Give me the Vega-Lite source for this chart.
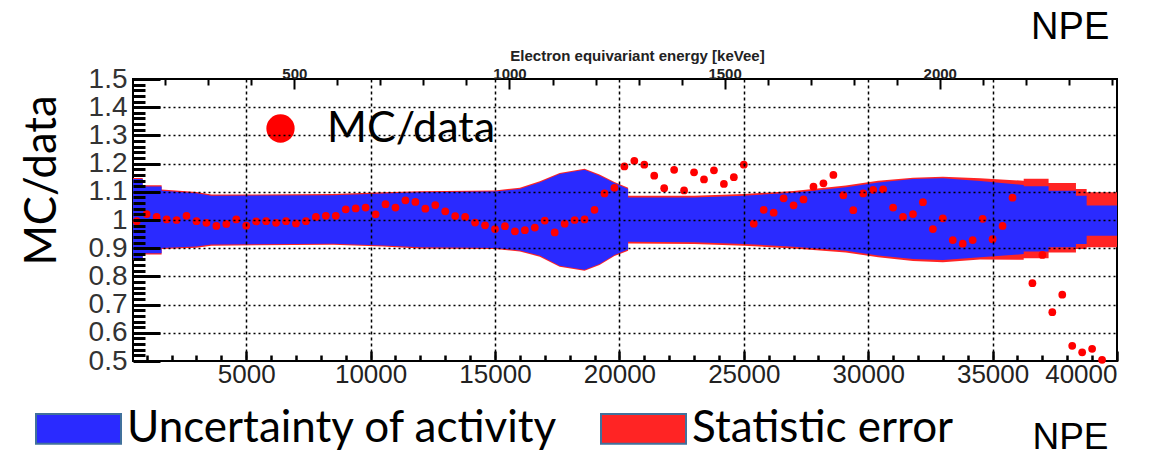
{
  "$schema": "https://vega.github.io/schema/vega-lite/v6.json",
  "width": 984,
  "height": 282,
  "autosize": {"type": "none"},
  "padding": {"left": 133, "top": 79, "right": 51, "bottom": 94},
  "background": "white",
  "title": {"text": "NPE", "anchor": "end", "font": "Liberation Sans", "fontSize": 38, "fontWeight": "normal", "color": "black", "offset": 1, "dx": -9},
  "config": {"view": {"stroke": "black", "strokeWidth": 2}},
  "datasets": {
    "band": [
      {"npe": 450, "blo": 0.862, "bhi": 1.145, "rlo": 0.858, "rhi": 1.149},
      {"npe": 840, "blo": 0.862, "bhi": 1.145, "rlo": 0.858, "rhi": 1.149},
      {"npe": 840, "blo": 0.882, "bhi": 1.119, "rlo": 0.878, "rhi": 1.123},
      {"npe": 1600, "blo": 0.882, "bhi": 1.119, "rlo": 0.878, "rhi": 1.123},
      {"npe": 1600, "blo": 0.901, "bhi": 1.104, "rlo": 0.897, "rhi": 1.108},
      {"npe": 3000, "blo": 0.906, "bhi": 1.095, "rlo": 0.902, "rhi": 1.099},
      {"npe": 3600, "blo": 0.913, "bhi": 1.086, "rlo": 0.909, "rhi": 1.090},
      {"npe": 8500, "blo": 0.916, "bhi": 1.088, "rlo": 0.912, "rhi": 1.092},
      {"npe": 10500, "blo": 0.910, "bhi": 1.094, "rlo": 0.906, "rhi": 1.098},
      {"npe": 12000, "blo": 0.903, "bhi": 1.098, "rlo": 0.899, "rhi": 1.102},
      {"npe": 15000, "blo": 0.901, "bhi": 1.101, "rlo": 0.897, "rhi": 1.105},
      {"npe": 16000, "blo": 0.892, "bhi": 1.110, "rlo": 0.888, "rhi": 1.114},
      {"npe": 16800, "blo": 0.874, "bhi": 1.133, "rlo": 0.870, "rhi": 1.137},
      {"npe": 17600, "blo": 0.838, "bhi": 1.163, "rlo": 0.834, "rhi": 1.167},
      {"npe": 18600, "blo": 0.824, "bhi": 1.178, "rlo": 0.820, "rhi": 1.182},
      {"npe": 19200, "blo": 0.844, "bhi": 1.157, "rlo": 0.840, "rhi": 1.161},
      {"npe": 19800, "blo": 0.876, "bhi": 1.131, "rlo": 0.872, "rhi": 1.135},
      {"npe": 20350, "blo": 0.895, "bhi": 1.110, "rlo": 0.891, "rhi": 1.114},
      {"npe": 20350, "blo": 0.923, "bhi": 1.080, "rlo": 0.917, "rhi": 1.086},
      {"npe": 23000, "blo": 0.921, "bhi": 1.080, "rlo": 0.915, "rhi": 1.086},
      {"npe": 25000, "blo": 0.915, "bhi": 1.086, "rlo": 0.909, "rhi": 1.092},
      {"npe": 27000, "blo": 0.905, "bhi": 1.097, "rlo": 0.899, "rhi": 1.103},
      {"npe": 29100, "blo": 0.891, "bhi": 1.116, "rlo": 0.885, "rhi": 1.122},
      {"npe": 30400, "blo": 0.874, "bhi": 1.133, "rlo": 0.868, "rhi": 1.139},
      {"npe": 31800, "blo": 0.862, "bhi": 1.145, "rlo": 0.855, "rhi": 1.150},
      {"npe": 33000, "blo": 0.858, "bhi": 1.148, "rlo": 0.850, "rhi": 1.153},
      {"npe": 34500, "blo": 0.868, "bhi": 1.138, "rlo": 0.860, "rhi": 1.148},
      {"npe": 36250, "blo": 0.879, "bhi": 1.124, "rlo": 0.859, "rhi": 1.139},
      {"npe": 36250, "blo": 0.888, "bhi": 1.120, "rlo": 0.864, "rhi": 1.146},
      {"npe": 37250, "blo": 0.888, "bhi": 1.120, "rlo": 0.864, "rhi": 1.146},
      {"npe": 37250, "blo": 0.903, "bhi": 1.104, "rlo": 0.885, "rhi": 1.131},
      {"npe": 38350, "blo": 0.903, "bhi": 1.104, "rlo": 0.885, "rhi": 1.131},
      {"npe": 38350, "blo": 0.915, "bhi": 1.086, "rlo": 0.897, "rhi": 1.110},
      {"npe": 38780, "blo": 0.915, "bhi": 1.086, "rlo": 0.897, "rhi": 1.110},
      {"npe": 38780, "blo": 0.944, "bhi": 1.051, "rlo": 0.903, "rhi": 1.098},
      {"npe": 40000, "blo": 0.944, "bhi": 1.051, "rlo": 0.903, "rhi": 1.098}
    ],
    "ratio": [
      {"npe": 600, "r": 0.996}, {"npe": 1000, "r": 1.021}, {"npe": 1400, "r": 1.011}, {"npe": 1800, "r": 1.002},
      {"npe": 2200, "r": 1.000}, {"npe": 2600, "r": 1.015}, {"npe": 3000, "r": 0.996}, {"npe": 3400, "r": 0.990},
      {"npe": 3800, "r": 0.979}, {"npe": 4200, "r": 0.986}, {"npe": 4600, "r": 1.002}, {"npe": 5000, "r": 0.980},
      {"npe": 5400, "r": 0.995}, {"npe": 5800, "r": 0.996}, {"npe": 6200, "r": 0.990}, {"npe": 6600, "r": 0.996},
      {"npe": 7000, "r": 0.988}, {"npe": 7400, "r": 0.996}, {"npe": 7800, "r": 1.011}, {"npe": 8200, "r": 1.015},
      {"npe": 8600, "r": 1.015}, {"npe": 9000, "r": 1.038}, {"npe": 9400, "r": 1.041}, {"npe": 9800, "r": 1.044},
      {"npe": 10200, "r": 1.020}, {"npe": 10600, "r": 1.056}, {"npe": 11000, "r": 1.044}, {"npe": 11400, "r": 1.070},
      {"npe": 11800, "r": 1.064}, {"npe": 12200, "r": 1.040}, {"npe": 12600, "r": 1.053}, {"npe": 13000, "r": 1.031},
      {"npe": 13400, "r": 1.014}, {"npe": 13800, "r": 1.011}, {"npe": 14200, "r": 0.991}, {"npe": 14600, "r": 0.981},
      {"npe": 15000, "r": 0.968}, {"npe": 15400, "r": 0.978}, {"npe": 15800, "r": 0.960}, {"npe": 16200, "r": 0.964},
      {"npe": 16600, "r": 0.973}, {"npe": 17000, "r": 0.998}, {"npe": 17400, "r": 0.956}, {"npe": 17800, "r": 0.987},
      {"npe": 18200, "r": 1.000}, {"npe": 18600, "r": 1.002}, {"npe": 19000, "r": 1.036}, {"npe": 19400, "r": 1.094},
      {"npe": 19800, "r": 1.114}, {"npe": 20200, "r": 1.190}, {"npe": 20600, "r": 1.210}, {"npe": 21000, "r": 1.196},
      {"npe": 21400, "r": 1.157}, {"npe": 21800, "r": 1.113}, {"npe": 22200, "r": 1.178}, {"npe": 22600, "r": 1.105},
      {"npe": 23000, "r": 1.169}, {"npe": 23400, "r": 1.144}, {"npe": 23800, "r": 1.176}, {"npe": 24200, "r": 1.128},
      {"npe": 24600, "r": 1.152}, {"npe": 25000, "r": 1.196}, {"npe": 25400, "r": 0.987}, {"npe": 25800, "r": 1.036},
      {"npe": 26200, "r": 1.026}, {"npe": 26600, "r": 1.077}, {"npe": 27000, "r": 1.052}, {"npe": 27400, "r": 1.073},
      {"npe": 27800, "r": 1.118}, {"npe": 28200, "r": 1.130}, {"npe": 28600, "r": 1.160}, {"npe": 29000, "r": 1.088},
      {"npe": 29400, "r": 1.035}, {"npe": 29800, "r": 1.094}, {"npe": 30200, "r": 1.107}, {"npe": 30600, "r": 1.109},
      {"npe": 31000, "r": 1.044}, {"npe": 31400, "r": 1.011}, {"npe": 31800, "r": 1.021}, {"npe": 32200, "r": 1.063},
      {"npe": 32600, "r": 0.968}, {"npe": 33000, "r": 1.006}, {"npe": 33400, "r": 0.929}, {"npe": 33800, "r": 0.916},
      {"npe": 34200, "r": 0.929}, {"npe": 34600, "r": 1.004}, {"npe": 35000, "r": 0.932}, {"npe": 35400, "r": 0.979},
      {"npe": 35800, "r": 1.079}, {"npe": 36600, "r": 0.776}, {"npe": 37000, "r": 0.876}, {"npe": 37400, "r": 0.673},
      {"npe": 37800, "r": 0.735}, {"npe": 38200, "r": 0.554}, {"npe": 38600, "r": 0.531}, {"npe": 39000, "r": 0.543},
      {"npe": 39400, "r": 0.504}
    ],
    "kev": [{"kev": 500}, {"kev": 1000}, {"kev": 1500}, {"kev": 2000}]
  },
  "layer": [
    {
      "layer": [
        {
          "data": {"name": "band"},
          "mark": {"type": "area", "opacity": 1},
          "encoding": {
            "x": {
              "field": "npe", "type": "quantitative",
              "scale": {"domain": [450, 40000], "nice": false, "zero": false},
              "axis": {
                "values": [1000,2000,3000,4000,5000,6000,7000,8000,9000,10000,11000,12000,13000,14000,15000,16000,17000,18000,19000,20000,21000,22000,23000,24000,25000,26000,27000,28000,29000,30000,31000,32000,33000,34000,35000,36000,37000,38000,39000,40000],
                "tickCount": 500,
                "labelExpr": "datum.value % 5000 == 0 ? format(datum.value, 'd') : ''",
                "labelFont": "Liberation Sans", "labelFontSize": 26, "labelColor": "#222",
                "labelOverlap": false, "labelFlush": true, "labelBound": false, "labelPadding": 10,
                "tickColor": "black",
                "tickSize": {"condition": {"test": "datum.value % 5000 == 0", "value": -10}, "value": -6},
                "tickWidth": 2.5,
                "grid": true, "gridColor": "black", "gridDash": [3, 3], "gridWidth": 1.5,
                "gridOpacity": {"condition": {"test": "datum.value % 5000 != 0 || datum.value >= 40000", "value": 0}, "value": 1},
                "domain": false,
                "title": "NPE", "titleFont": "Liberation Sans", "titleFontSize": 37, "titleFontWeight": "normal", "titleColor": "black",
                "titleX": 937, "titleY": 87, "titleAlign": "center", "titleBaseline": "alphabetic",
                "zindex": 1
              }
            },
            "y": {
              "field": "rlo", "type": "quantitative",
              "scale": {"domain": [0.5, 1.5], "nice": false, "zero": false},
              "axis": {
                "values": [0.5,0.52,0.54,0.56,0.58,0.6,0.62,0.64,0.66,0.68,0.7,0.72,0.74,0.76,0.78,0.8,0.82,0.84,0.86,0.88,0.9,0.92,0.94,0.96,0.98,1,1.02,1.04,1.06,1.08,1.1,1.12,1.14,1.16,1.18,1.2,1.22,1.24,1.26,1.28,1.3,1.32,1.34,1.36,1.38,1.4,1.42,1.44,1.46,1.48,1.5],
                "tickCount": 500,
                "labelExpr": "abs(datum.value*10 - round(datum.value*10)) < 0.001 ? format(datum.value, '.1~f') : ''",
                "labelFont": "Liberation Sans", "labelFontSize": 28, "labelColor": "#333",
                "labelOverlap": false, "labelBound": false, "labelPadding": 33,
                "tickColor": "black",
                "tickSize": {"condition": {"test": "abs(datum.value*10 - round(datum.value*10)) < 0.001", "value": -27}, "value": -12},
                "tickWidth": 3,
                "grid": true, "gridColor": "black", "gridDash": [2, 3], "gridWidth": 1.5,
                "gridOpacity": {"condition": {"test": "abs(datum.value*10 - round(datum.value*10)) > 0.001 || datum.value < 0.55 || datum.value > 1.45", "value": 0}, "value": 1},
                "domain": false,
                "title": "MC/data", "titleFont": "Lato", "titleFontSize": 43.5, "titleFontWeight": "normal", "titleColor": "black",
                "titleX": -91, "titleY": 101, "titleAngle": 270, "titleAlign": "center", "titleBaseline": "middle",
                "zindex": 1
              }
            },
            "y2": {"field": "rhi"},
            "color": {
              "datum": "Statistic error",
              "scale": {"domain": ["Uncertainty of activity", "Statistic error"], "range": ["#2a2aff", "#ff2424"]},
              "legend": {
                "orient": "none", "legendX": -98, "legendY": 306, "direction": "horizontal", "title": null,
                "symbolType": "M-1,-0.35H1V0.35H-1Z", "symbolSize": 7225,
                "symbolStrokeColor": "#41719c", "symbolStrokeWidth": 2, "symbolOpacity": 1,
                "labelFont": "Lato", "labelFontSize": 44, "labelColor": "black", "labelOffset": 5,
                "labelLimit": 600, "columnPadding": 38, "padding": 0
              }
            }
          }
        },
        {
          "data": {"name": "band"},
          "mark": {"type": "area", "opacity": 1},
          "encoding": {
            "x": {"field": "npe", "type": "quantitative"},
            "y": {"field": "blo", "type": "quantitative"},
            "y2": {"field": "bhi"},
            "color": {"datum": "Uncertainty of activity"}
          }
        },
        {
          "data": {"name": "ratio"},
          "mark": {"type": "point", "filled": true, "color": "#ff0000", "size": 60, "opacity": 1},
          "encoding": {
            "x": {"field": "npe", "type": "quantitative"},
            "y": {"field": "r", "type": "quantitative"},
            "shape": {
              "datum": "MC/data",
              "scale": {"range": ["circle"]},
              "legend": {
                "orient": "none", "legendX": 107, "legendY": 13, "title": null,
                "fillColor": "white", "padding": 15,
                "symbolType": "circle", "symbolSize": 800, "symbolFillColor": "#ff0000", "symbolStrokeColor": "#ff0000", "symbolStrokeWidth": 0,
                "symbolOffset": 4, "labelOffset": 25,
                "labelFont": "Lato", "labelFontSize": 43, "labelColor": "black", "labelLimit": 400
              }
            }
          }
        }
      ]
    },
    {
      "data": {"name": "kev"},
      "mark": {"type": "point", "opacity": 0},
      "encoding": {
        "x": {
          "field": "kev", "type": "quantitative",
          "scale": {"domain": [125, 2412], "nice": false, "zero": false},
          "axis": {
            "orient": "top",
            "values": [200,300,400,500,600,700,800,900,1000,1100,1200,1300,1400,1500,1600,1700,1800,1900,2000,2100,2200,2300,2400],
            "tickCount": 500,
            "labelExpr": "datum.value % 500 == 0 ? format(datum.value, 'd') : ''",
            "labelFont": "Liberation Sans", "labelFontSize": 15, "labelFontWeight": "bold", "labelColor": "#222",
            "labelOverlap": false, "labelBound": false, "labelBaseline": "alphabetic", "labelPadding": 11,
            "tickColor": "black",
            "tickSize": {"condition": {"test": "datum.value % 500 == 0", "value": -10}, "value": -6},
            "tickWidth": 2,
            "grid": false, "domain": false,
            "title": "Electron equivariant energy [keVee]", "titleFont": "Liberation Sans", "titleFontSize": 15, "titleFontWeight": "bold", "titleColor": "#222",
            "titleX": 504, "titleY": -19, "titleAlign": "center", "titleBaseline": "alphabetic"
          }
        }
      }
    }
  ],
  "resolve": {"scale": {"x": "independent"}, "axis": {"x": "independent"}}
}
